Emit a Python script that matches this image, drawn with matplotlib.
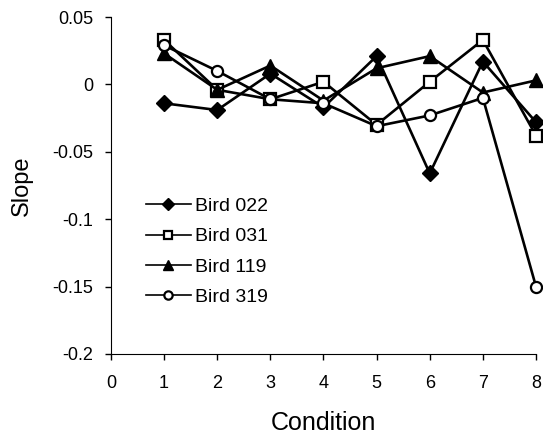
import numpy as np
from matplotlib import pyplot as plt

plt.rcParams['font.family'] = ['Liberation Sans', 'DejaVu Sans']

condition = [1, 2, 3, 4, 5, 6, 7, 8]
bird_022 = [-0.014, -0.019, 0.008, -0.017, 0.021, -0.066, 0.017, -0.028]
bird_031 = [0.033, -0.004, -0.011, 0.002, -0.030, 0.002, 0.033, -0.038]
bird_119 = [0.023, -0.004, 0.014, -0.012, 0.012, 0.021, -0.006, 0.003]
bird_319 = [0.029, 0.010, -0.011, -0.014, -0.031, -0.023, -0.010, -0.150]

fig = plt.figure(figsize=(5.43, 4.37), dpi=100)
ax = fig.add_axes([0.2044, 0.19, 0.7827, 0.771])

ax.plot(condition, bird_022, color='black', lw=1.9, marker='D', ms=8.5,
        mfc='black', mec='black', label='Bird 022', clip_on=False)
ax.plot(condition, bird_031, color='black', lw=1.9, marker='s', ms=8,
        mfc='white', mec='black', mew=1.6, label='Bird 031', clip_on=False)
ax.plot(condition, bird_119, color='black', lw=1.9, marker='^', ms=10,
        mfc='black', mec='black', label='Bird 119', clip_on=False)
ax.plot(condition, bird_319, color='black', lw=1.9, marker='o', ms=8,
        mfc='white', mec='black', mew=1.6, label='Bird 319', clip_on=False)

ax.set_xlim(0, 8)
ax.set_ylim(-0.2, 0.05)
ax.set_xticks(range(0, 9))
ax.set_yticks([-0.2, -0.15, -0.1, -0.05, 0, 0.05])
ax.set_yticklabels(['-0.2', '-0.15', '-0.1', '-0.05', '0', '0.05'])
ax.tick_params(labelsize=13, length=4, width=1, direction='out')
ax.tick_params(axis='y', pad=9)
ax.tick_params(axis='x', pad=11)
ax.spines['top'].set_visible(False)
ax.spines['right'].set_visible(False)

ax.set_xlabel('Condition', fontsize=18, labelpad=14)
ax.set_ylabel('Slope', fontsize=17, labelpad=14)

leg = ax.legend(loc='upper left', bbox_to_anchor=(0.0825, 0.465), frameon=False,
                fontsize=14, borderpad=0, borderaxespad=0, handlelength=2.3,
                handletextpad=0.2, labelspacing=0.66, markerscale=0.75)
for line in leg.get_lines():
    line.set_linewidth(1.2)

fig.savefig('out.png', dpi=100)
